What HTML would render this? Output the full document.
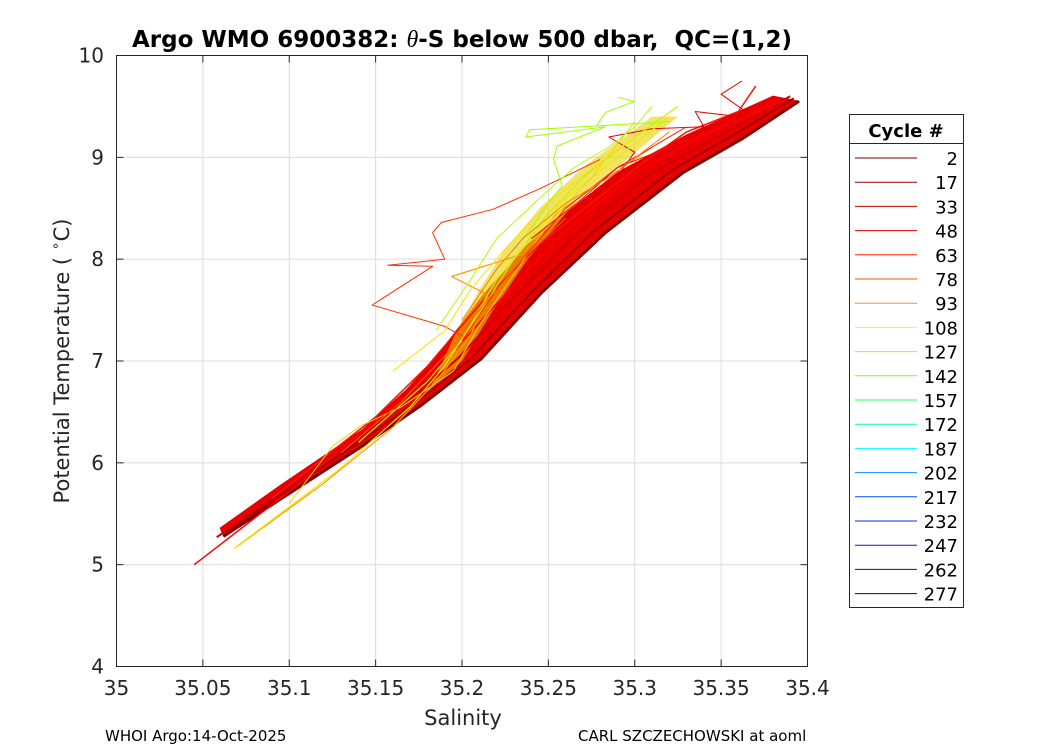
<!DOCTYPE html>
<html><head><meta charset="utf-8"><style>
body{margin:0;background:#fff;}
svg{display:block;font-family:"DejaVu Sans","Liberation Sans",sans-serif;}
</style></head><body>
<svg id="chart" width="1050" height="750" viewBox="0 0 1050 750">
<rect x="0" y="0" width="1050" height="750" fill="#fff"/>
<text x="462" y="47" text-anchor="middle" font-size="23" font-weight="bold" fill="#000" xml:space="preserve">Argo WMO 6900382: <tspan font-family="Liberation Serif,serif" font-style="italic" font-weight="normal" font-size="24">θ</tspan>-S below 500 dbar,  QC=(1,2)</text>
<g id="grid"></g>
<g id="plot"></g>
<rect x="116.5" y="55.5" width="691" height="611" fill="none" stroke="#262626" stroke-width="1"/>
<g id="ticks"></g>
<text x="463" y="725" text-anchor="middle" font-size="21" fill="#262626">Salinity</text>
<text transform="translate(69,361) rotate(-90)" text-anchor="middle" font-size="21" fill="#262626" xml:space="preserve">Potential Temperature ( <tspan dy="-9" font-size="14">∘</tspan><tspan dy="9">C)</tspan></text>
<text x="105" y="741" font-size="15" fill="#000">WHOI Argo:14-Oct-2025</text>
<text x="578" y="741" font-size="15" fill="#000">CARL SZCZECHOWSKI at aoml</text>
<g id="legend">
<rect x="849.5" y="114.5" width="114" height="493" fill="#fff" stroke="#262626"/>
<line x1="849.5" y1="143.5" x2="963.5" y2="143.5" stroke="#262626"/>
<text x="906" y="137" text-anchor="middle" font-size="18" font-weight="bold">Cycle #</text>
</g>
</svg>
<script>
const xTicks=[35,35.05,35.1,35.15,35.2,35.25,35.3,35.35,35.4];
const xTickLabels=["35","35.05","35.1","35.15","35.2","35.25","35.3","35.35","35.4"];
const yTicks=[4,5,6,7,8,9,10];
const yTickLabels=["4","5","6","7","8","9","10"];
const legendCycles=["2","17","33","48","63","78","93","108","127","142","157","172","187","202","217","232","247","262","277"];
const legendColors=["#700000","#900000","#c00000","#e00000","#ff2000","#ff5000","#ff9020","#ffee20","#b0ff00","#70ff20","#20ff60","#00ffb0","#00ffff","#0090ff","#0050ff","#0030e0","#0020c0","#0010a0","#000080"];
// dense red band envelope (salinity, temperature)
const redBandS=[35.062,35.10,35.14,35.176,35.211,35.246,35.283,35.328,35.362,35.395,35.38,35.33,35.29,35.26,35.235,35.21,35.188,35.168,35.142,35.095,35.06];
const redBandT=[5.28,5.70,6.14,6.56,7.02,7.67,8.26,8.85,9.18,9.55,9.60,9.22,8.85,8.45,8.10,7.60,7.10,6.72,6.32,5.78,5.36];
// dense yellow/green band envelope
const yelBandS=[35.185,35.197,35.21,35.225,35.245,35.27,35.31,35.325,35.29,35.265,35.238,35.218,35.2,35.18];
const yelBandT=[6.85,7.30,7.70,8.10,8.50,8.90,9.40,9.40,8.90,8.55,8.00,7.50,7.00,6.70];
const profileColors=["#7a0000","#a00000","#d00000","#ff0000","#ff1000","#e00000","#ff3000","#ff9900","#f2e600","#ffd000","#c8f000","#a0ff00","#ff2000","#ff6000","#b0ff00","#ffe000","#ff0000","#ff8000"];
const profileWidths=[3,2,2,1.5,1.5,1,1,1.2,1.2,1,1.2,1,1,1,1,1,1,1];
const profileS=[
[35.062,35.10,35.14,35.176,35.211,35.246,35.283,35.328,35.362,35.395],
[35.064,35.10,35.17,35.205,35.240,35.276,35.322,35.36,35.392],
[35.058,35.10,35.165,35.198,35.232,35.268,35.31,35.355,35.39],
[35.045,35.10,35.16,35.19,35.222,35.258,35.30,35.34,35.385],
[35.09,35.15,35.18,35.21,35.245,35.28,35.305,35.33,35.36,35.37],
[35.26,35.285,35.30,35.285,35.31,35.34,35.335,35.37,35.35,35.362],
[35.204,35.190,35.148,35.183,35.157,35.190,35.183,35.188,35.218,35.246,35.28],
[35.07,35.12,35.16,35.185,35.205,35.215,35.194,35.235,35.255,35.28,35.31],
[35.068,35.13,35.17,35.19,35.205,35.22,35.24,35.26,35.29,35.32],
[35.10,35.125,35.141,35.165,35.195,35.21,35.23,35.25,35.275,35.30],
[35.14,35.18,35.2,35.215,35.23,35.25,35.27,35.30,35.325],
[35.22,35.24,35.25,35.258,35.253,35.255,35.283,35.237,35.239,35.32,35.278,35.283,35.30,35.29],
[35.2,35.22,35.24,35.26,35.29,35.31,35.33],
[35.13,35.165,35.19,35.21,35.235,35.26],
[35.185,35.205,35.22,35.245,35.265,35.285,35.30,35.31],
[35.16,35.19,35.205,35.225,35.25,35.28,35.30],
[35.24,35.27,35.29,35.32,35.35,35.37,35.38],
[35.20,35.22,35.235,35.26,35.285,35.32]
];
const profileT=[
[5.28,5.70,6.14,6.56,7.02,7.67,8.26,8.85,9.18,9.55],
[5.32,5.74,6.55,7.02,7.67,8.27,8.88,9.25,9.58],
[5.27,5.76,6.55,7.03,7.66,8.27,8.85,9.27,9.60],
[5.00,5.72,6.55,7.00,7.60,8.25,8.85,9.22,9.55],
[5.65,6.45,6.95,7.55,8.15,8.62,8.95,9.25,9.45,9.70],
[8.40,8.70,9.05,9.20,9.28,9.30,9.45,9.38,9.62,9.75],
[7.21,7.34,7.55,7.93,7.94,8.00,8.26,8.36,8.49,8.70,8.98],
[5.18,5.80,6.35,6.80,7.25,7.65,7.83,8.05,8.45,8.75,9.10],
[5.16,5.95,6.55,6.95,7.35,7.80,8.20,8.60,9.00,9.40],
[5.60,6.16,6.36,6.55,6.90,7.35,7.85,8.35,8.80,9.35],
[6.20,6.80,7.20,7.60,8.00,8.45,8.80,9.20,9.50],
[7.90,8.30,8.55,8.72,8.98,9.11,9.30,9.20,9.27,9.35,9.31,9.44,9.55,9.59],
[7.20,7.70,8.10,8.50,8.90,9.10,9.30],
[6.10,6.60,7.05,7.50,8.00,8.40],
[7.30,7.80,8.20,8.60,8.90,9.10,9.30,9.50],
[6.90,7.30,7.70,8.10,8.55,8.95,9.20],
[8.20,8.60,8.90,9.10,9.30,9.45,9.55],
[7.40,7.90,8.20,8.55,8.80,9.25]
];
const X0=116.5,X1=807.5,Y0=666.5,Y1=55.5;
const xs=s=>X0+(s-35)/(35.4-35)*(X1-X0);
const ys=t=>Y0-(t-4)/(10-4)*(Y0-Y1);
const NS="http://www.w3.org/2000/svg";
function mk(tag,parent,attrs){const e=document.createElementNS(NS,tag);for(const k in attrs)e.setAttribute(k,attrs[k]);parent.appendChild(e);return e;}
const grid=document.getElementById('grid'),ticks=document.getElementById('ticks'),plot=document.getElementById('plot'),legend=document.getElementById('legend');
xTicks.forEach((v,i)=>{
  const x=xs(v);
  const g=mk('line',grid,{x1:x,y1:Y1,x2:x,y2:Y0,stroke:'#dcdcdc','stroke-width':1});
  
  
  const t=mk('line',ticks,{x1:x,y1:Y0,x2:x,y2:Y0-7,stroke:'#262626'});
  
  
  const t2=mk('line',ticks,{x1:x,y1:Y1,x2:x,y2:Y1+7,stroke:'#262626'});
  
  
  const l=mk('text',ticks,{x:x,y:695,'text-anchor':'middle','font-size':20,fill:'#262626'});
  l.textContent=xTickLabels[i];
  
  
});
yTicks.forEach((v,i)=>{
  const y=ys(v);
  const g=mk('line',grid,{x1:X0,y1:y,x2:X1,y2:y,stroke:'#dcdcdc','stroke-width':1});
  
  
  const t=mk('line',ticks,{x1:X0,y1:y,x2:X0+7,y2:y,stroke:'#262626'});
  
  
  const t2=mk('line',ticks,{x1:X1,y1:y,x2:X1-7,y2:y,stroke:'#262626'});
  
  
  const l=mk('text',ticks,{x:104,y:y+7,'text-anchor':'end','font-size':20,fill:'#262626'});
  l.textContent=yTickLabels[i];
  
  
});
const rb=mk('polygon',plot,{points:redBandS.map((s,j)=>xs(s).toFixed(1)+','+ys(redBandT[j]).toFixed(1)).join(' '),fill:'#e80000',stroke:'#e80000','stroke-width':1});


const yb=mk('polygon',plot,{points:yelBandS.map((s,j)=>xs(s).toFixed(1)+','+ys(yelBandT[j]).toFixed(1)).join(' '),fill:'#e8d000','fill-opacity':0.6,stroke:'none'});


profileS.forEach((arr,i)=>{
  const pts=arr.map((s,j)=>xs(s).toFixed(1)+','+ys(profileT[i][j]).toFixed(1)).join(' ');
  const p=mk('polyline',plot,{points:pts,fill:'none',stroke:profileColors[i],'stroke-width':profileWidths[i],'stroke-linejoin':'round'});
  
  
});
legendCycles.forEach((c,i)=>{
  const y=158+i*24.2;
  const ln=mk('line',legend,{x1:855,y1:y,x2:917,y2:y,stroke:legendColors[i],'stroke-width':1});
  
  
  const t=mk('text',legend,{x:958,y:y+7,'text-anchor':'end','font-size':18,fill:'#000'});
  t.textContent=c;
  
  
});
</script>
</body></html>
